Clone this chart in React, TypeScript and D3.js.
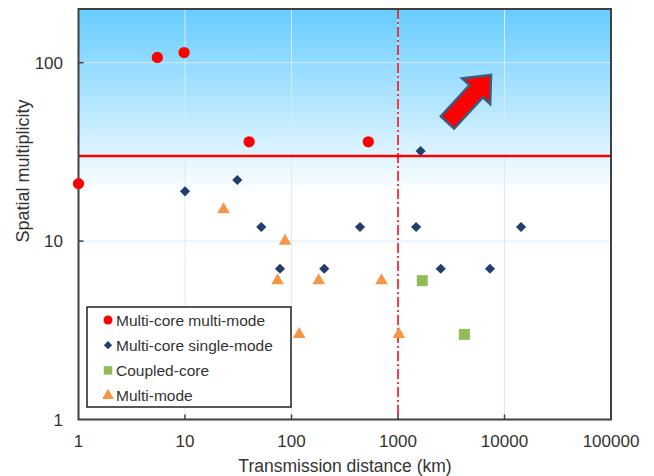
import React, { useEffect, useRef } from 'react'
import * as d3 from 'd3'

// Multi-core multi-mode
const mcmmDist = [1, 5.5, 9.8, 40, 526]
const mcmmMult = [21, 107, 114, 36, 36]
// Multi-core single-mode
const mcsmDist = [10, 31, 52, 78, 203, 440, 1480, 1630, 2520, 7300, 14300]
const mcsmMult = [19, 22, 12, 7, 7, 12, 12, 32, 7, 7, 12]
// Coupled-core
const ccDist = [1690, 4200]
const ccMult = [6, 3]
// Multi-mode
const mmDist = [23, 74, 87, 118, 180, 700, 1020]
const mmMult = [15, 6, 10, 3, 6, 6, 3]

const xTicks = [1, 10, 100, 1000, 10000, 100000]
const yTicks = [1, 10, 100]
const legendLabels = ['Multi-core multi-mode', 'Multi-core single-mode', 'Coupled-core', 'Multi-mode']

const W = 654, H = 476
const left = 78.5, right = 611, top = 9, bottom = 419.5
const FONT = 'Liberation Sans, Arial, sans-serif'
const TEXT = '#333'

export default function App() {
  const ref = useRef<SVGSVGElement>(null)

  useEffect(() => {
    const svg = d3.select(ref.current)
    svg.selectAll('*').remove()

    const x = d3.scaleLog().domain([1, 100000]).range([left, right])
    const y = d3.scaleLog().domain([1, 200]).range([bottom, top])

    const defs = svg.append('defs')
    const grad = defs.append('linearGradient').attr('id', 'bg').attr('x1', 0).attr('y1', 0).attr('x2', 0).attr('y2', 1)
    grad.append('stop').attr('offset', '0%').attr('stop-color', '#66ccff')
    grad.append('stop').attr('offset', '45%').attr('stop-color', '#ffffff')
    grad.append('stop').attr('offset', '100%').attr('stop-color', '#ffffff')

    svg.append('rect')
      .attr('x', left).attr('y', top)
      .attr('width', right - left).attr('height', bottom - top)
      .attr('fill', 'url(#bg)')

    // gridlines
    const grid = svg.append('g')
    grid.selectAll('.gx').data(xTicks.slice(1, -1)).enter().append('line')
      .attr('x1', d => x(d)).attr('x2', d => x(d)).attr('y1', top).attr('y2', bottom)
      .attr('stroke', '#d6ebfb').attr('stroke-width', 1)
    grid.selectAll('.gy').data(yTicks.slice(1)).enter().append('line')
      .attr('y1', d => y(d)).attr('y2', d => y(d)).attr('x1', left).attr('x2', right)
      .attr('stroke', '#d6ebfb').attr('stroke-width', 1)

    // threshold lines
    svg.append('line')
      .attr('x1', x(1000)).attr('x2', x(1000)).attr('y1', top).attr('y2', bottom)
      .attr('stroke', '#ff0000').attr('stroke-width', 1.5).attr('stroke-dasharray', '10,3,2,3')
    svg.append('line')
      .attr('x1', left).attr('x2', right).attr('y1', y(30)).attr('y2', y(30))
      .attr('stroke', '#ff0000').attr('stroke-width', 2.5)

    // arrow annotation
    const tail: [number, number] = [447.5, 122.5]
    const tip: [number, number] = [491, 75]
    const ang = Math.atan2(tip[1] - tail[1], tip[0] - tail[0]) * 180 / Math.PI
    const len = Math.hypot(tip[0] - tail[0], tip[1] - tail[1])
    const hl = 22, sw = 9, hw = 19
    svg.append('path')
      .attr('d', `M0,${-sw} L${len - hl},${-sw} L${len - hl},${-hw} L${len},0 L${len - hl},${hw} L${len - hl},${sw} L0,${sw} Z`)
      .attr('transform', `translate(${tail[0]},${tail[1]}) rotate(${ang})`)
      .attr('fill', '#ff0000').attr('stroke', '#3d5a80').attr('stroke-width', 2.5)
      .attr('stroke-linejoin', 'miter')

    // frame
    svg.append('rect')
      .attr('x', left).attr('y', top)
      .attr('width', right - left).attr('height', bottom - top)
      .attr('fill', 'none').attr('stroke', '#404040').attr('stroke-width', 2)

    // ticks inside
    svg.selectAll('.tx').data(xTicks.slice(1, -1)).enter().append('line')
      .attr('x1', d => x(d)).attr('x2', d => x(d)).attr('y1', bottom).attr('y2', bottom - 5)
      .attr('stroke', '#404040').attr('stroke-width', 1.5)
    svg.selectAll('.ty').data(yTicks.slice(1)).enter().append('line')
      .attr('y1', d => y(d)).attr('y2', d => y(d)).attr('x1', left).attr('x2', left + 5)
      .attr('stroke', '#404040').attr('stroke-width', 1.5)

    // tick labels
    svg.selectAll('.lx').data(xTicks).enter().append('text')
      .attr('x', d => x(d)).attr('y', 447)
      .attr('text-anchor', 'middle')
      .attr('font-family', FONT).attr('font-size', 17).attr('fill', TEXT)
      .text(d => String(d))
    svg.selectAll('.ly').data(yTicks).enter().append('text')
      .attr('x', 63).attr('y', d => y(d) + 6)
      .attr('text-anchor', 'end')
      .attr('font-family', FONT).attr('font-size', 17).attr('fill', TEXT)
      .text(d => String(d))

    // axis titles
    svg.append('text')
      .attr('x', 345).attr('y', 472)
      .attr('text-anchor', 'middle')
      .attr('font-family', FONT).attr('font-size', 17.5).attr('fill', TEXT)
      .text('Transmission distance (km)')
    svg.append('text')
      .attr('transform', `translate(29,171) rotate(-90)`)
      .attr('text-anchor', 'middle')
      .attr('font-family', FONT).attr('font-size', 18).attr('fill', TEXT)
      .text('Spatial multiplicity')

    // legend
    const lg = svg.append('g')
    lg.append('rect')
      .attr('x', 87).attr('y', 307).attr('width', 204).attr('height', 100)
      .attr('fill', '#ffffff').attr('stroke', '#222').attr('stroke-width', 1.5)
    const legendSyms = [
      { sym: d3.symbolCircle, size: 64, fill: '#ff0000', rot: 0 },
      { sym: d3.symbolSquare, size: 34, fill: '#1f3f6e', rot: 45 },
      { sym: d3.symbolSquare, size: 72, fill: '#92bb55', rot: 0 },
      { sym: d3.symbolTriangle, size: 60, fill: '#f79646', rot: 0 },
    ]
    legendLabels.forEach((lab, i) => {
      const cy = 320 + i * 25.2
      lg.append('path')
        .attr('d', d3.symbol().type(legendSyms[i].sym).size(legendSyms[i].size)())
        .attr('transform', `translate(108,${cy}) rotate(${legendSyms[i].rot})`)
        .attr('fill', legendSyms[i].fill)
      lg.append('text')
        .attr('x', 116).attr('y', cy + 5.5)
        .attr('font-family', FONT).attr('font-size', 15.5).attr('fill', TEXT)
        .text(lab)
    })

    // data points
    const drawSeries = (xs: number[], ys: number[], sym: d3.SymbolType, size: number, fill: string, rot = 0) => {
      svg.append('g').selectAll('path').data(xs.map((d, i) => [d, ys[i]])).enter().append('path')
        .attr('d', d3.symbol().type(sym).size(size)())
        .attr('transform', d => `translate(${x(d[0])},${y(d[1])}) rotate(${rot})`)
        .attr('fill', fill)
    }
    drawSeries(mcsmDist, mcsmMult, d3.symbolSquare, 52, '#1f3f6e', 45)
    drawSeries(ccDist, ccMult, d3.symbolSquare, 121, '#92bb55')
    drawSeries(mmDist, mmMult, d3.symbolTriangle, 70, '#f79646')
    drawSeries(mcmmDist, mcmmMult, d3.symbolCircle, 100, '#ff0000')
  }, [])

  return (
    <svg ref={ref} width={W} height={H} style={{ position: 'absolute', left: 0, top: 0, background: '#fff' }} />
  )
}
